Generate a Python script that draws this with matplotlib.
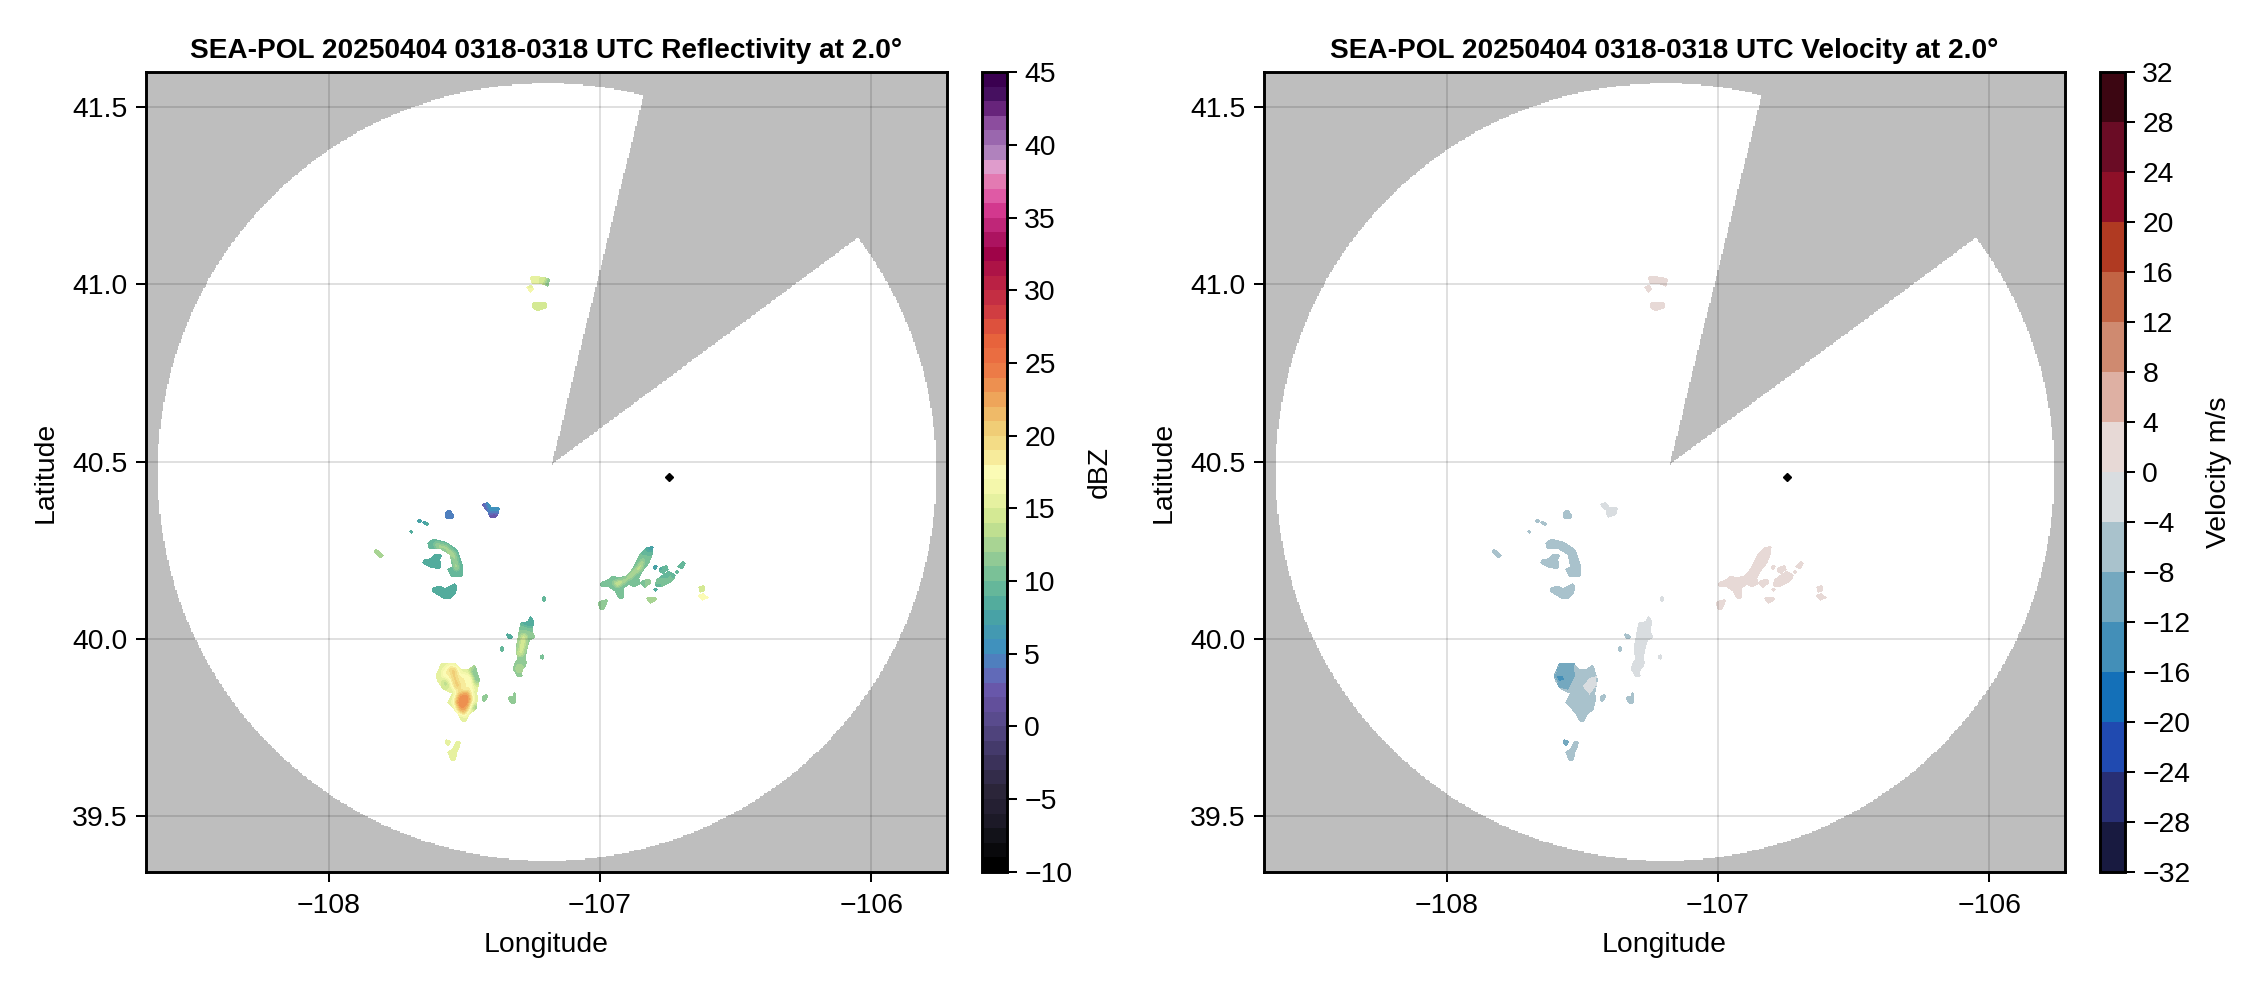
import numpy as np
import matplotlib
matplotlib.use("Agg")
import matplotlib.pyplot as plt
from matplotlib.colors import LinearSegmentedColormap, ListedColormap, Normalize
from matplotlib.path import Path

plt.rcParams['font.family'] = ['Liberation Sans', 'DejaVu Sans']

W, H = 2262, 990
titles = ["SEA-POL 20250404 0318-0318 UTC Reflectivity at 2.0\u00b0",
          "SEA-POL 20250404 0318-0318 UTC Velocity at 2.0\u00b0"]
x_ticks = [-108, -107, -106]
y_ticks = [39.5, 40.0, 40.5, 41.0, 41.5]
dbz_ticks = [-10, -5, 0, 5, 10, 15, 20, 25, 30, 35, 40, 45]
vel_ticks = [-32, -28, -24, -20, -16, -12, -8, -4, 0, 4, 8, 12, 16, 20, 24, 28, 32]
dbz_label, vel_label = "dBZ", "Velocity m/s"

# radar coverage
range_lon, range_lat = -107.195, 40.4705
range_rx, range_ry = 1.435, 1.0955
apex_lon, apex_lat = -107.178, 40.492
tip1_lon, tip1_lat = -106.84, 41.53
tip2_lon, tip2_lat = -106.06, 41.125
site_lon, site_lat = [-106.745], [40.456]

# colour tables
dbz_stops = [-10, -8, -6.5, -5, -2.5, 0, 2, 3.5, 5, 7, 8.5, 10, 12, 14, 16, 17.5, 19, 21, 23, 25, 27, 29,
             31, 33, 34, 36, 37, 38, 39, 40, 41, 42, 43, 44, 45]
dbz_colors = ["#000000", "#121218", "#201c2e", "#2a2438", "#3e3560", "#574a8a", "#6a53a7", "#5f6fbb", "#3f8fc0",
              "#459fa9", "#55ae9c", "#72be98", "#9fd094", "#cce58f", "#f0f5a6", "#fbfbb5", "#f5e48f", "#efc66f",
              "#ee9c55", "#ec7444", "#e65f3a", "#cc3742", "#b71e44", "#9c0048", "#b01866", "#d63b92", "#e15fa8",
              "#e37eb4", "#dfa0cf", "#ab7fbb", "#9965ad", "#8b4c9d", "#66227a", "#45105f", "#3a0050"]
vel_colors = ["#181a40", "#282f74", "#204ab0", "#1470b8", "#438fb8", "#74a8bf", "#a9c2cc", "#d9dde0",
              "#e7d9d6", "#deb0a3", "#cf8a70", "#c26444", "#b03a22", "#8e1028", "#6a0c25", "#3c0612"]

# echoes: outlines in lon / lat
arc_lon = [-107.633,-107.614,-107.565,-107.528,-107.510,-107.506,-107.547,-107.559,-107.541,-107.550,-107.590,-107.629]
arc_lat = [40.270,40.279,40.270,40.251,40.213,40.178,40.176,40.196,40.202,40.237,40.256,40.256]
arcin_lon = [-107.614,-107.565,-107.531,-107.518,-107.534,-107.541,-107.568,-107.608]
arcin_lat = [40.272,40.263,40.240,40.195,40.190,40.227,40.251,40.260]
arm_lon = [-107.584,-107.592,-107.587,-107.620,-107.651,-107.649,-107.629,-107.608]
arm_lat = [40.237,40.223,40.199,40.202,40.213,40.223,40.223,40.237]
low_lon = [-107.614,-107.590,-107.571,-107.534,-107.528,-107.534,-107.553,-107.577,-107.602,-107.617]
low_lat = [40.143,40.148,40.140,40.155,40.146,40.129,40.115,40.117,40.127,40.136]
blue_lon = [-107.568,-107.555,-107.541,-107.543,-107.565]
blue_lat = [40.354,40.362,40.350,40.340,40.339]
nb_lon = [-107.432,-107.412,-107.399,-107.371,-107.375,-107.405,-107.408]
nb_lat = [40.381,40.384,40.371,40.371,40.350,40.343,40.359]
nb2_lon = [-107.405,-107.378,-107.381,-107.405]
nb2_lat = [40.354,40.354,40.343,40.343]
nb3_lon = [-107.432,-107.423,-107.405,-107.412]
nb3_lat = [40.381,40.381,40.362,40.359]
nb4_lon = [-107.418,-107.403,-107.396,-107.408]
nb4_lat = [40.380,40.375,40.362,40.365]
s1_lon = [-107.670,-107.660,-107.661,-107.670]
s1_lat = [40.334,40.334,40.328,40.329]
s2_lon = [-107.651,-107.633,-107.635,-107.651]
s2_lat = [40.330,40.324,40.320,40.325]
s3_lon = [-107.700,-107.692,-107.693,-107.700]
s3_lat = [40.304,40.302,40.297,40.300]
s4_lon = [-107.829,-107.821,-107.801,-107.805,-107.817,-107.829]
s4_lat = [40.249,40.249,40.234,40.229,40.232,40.243]
strip_lon = [-107.256,-107.246,-107.248,-107.240,-107.260,-107.270,-107.276,-107.270,-107.275,-107.289,-107.287,
             -107.301,-107.317,-107.310,-107.301,-107.305,-107.295,-107.289,-107.260]
strip_lat = [40.065,40.054,40.021,40.005,39.999,39.969,39.945,39.936,39.922,39.908,39.894,39.894,39.913,39.933,
             39.945,39.978,40.021,40.044,40.049]
stop_lon = [-107.256,-107.246,-107.248,-107.258,-107.280,-107.289,-107.260]
stop_lat = [40.065,40.054,40.030,40.035,40.037,40.044,40.049]
smid_lon = [-107.289,-107.268,-107.270,-107.285,-107.301,-107.297]
smid_lat = [40.016,40.016,39.988,39.950,39.955,39.988]
sbot_lon = [-107.307,-107.280,-107.285,-107.297,-107.313]
sbot_lat = [39.927,39.933,39.908,39.899,39.913]
t1_lon = [-107.342,-107.326,-107.322,-107.338]
t1_lat = [40.014,40.011,40.005,40.005]
t2_lon = [-107.364,-107.356,-107.357,-107.364]
t2_lat = [39.978,39.978,39.968,39.968]
t3_lon = [-107.211,-107.204,-107.205,-107.211]
t3_lat = [40.119,40.119,40.108,40.108]
t4_lon = [-107.216,-107.210,-107.211,-107.216]
t4_lat = [39.957,39.957,39.945,39.945]
band_lon = [-107.000,-106.994,-106.969,-106.957,-106.932,-106.902,-106.877,-106.853,-106.828,-106.806,-106.810,
            -106.822,-106.846,-106.859,-106.853,-106.877,-106.896,-106.914,-106.916,-106.929,-106.945,-106.969]
band_lat = [40.149,40.159,40.166,40.176,40.171,40.176,40.199,40.237,40.256,40.258,40.237,40.213,40.190,40.171,
            40.155,40.148,40.155,40.143,40.115,40.115,40.136,40.148]
bin_lon = [-106.957,-106.908,-106.871,-106.846,-106.834,-106.846,-106.877,-106.914,-106.939]
bin_lat = [40.162,40.168,40.195,40.223,40.227,40.199,40.176,40.157,40.143]
btip_lon = [-106.828,-106.806,-106.810,-106.834]
btip_lat = [40.256,40.258,40.246,40.243]
b1_lon = [-106.846,-106.818,-106.816,-106.834,-106.846]
b1_lat = [40.162,40.168,40.157,40.146,40.152]
b2_lon = [-106.779,-106.754,-106.751,-106.769,-106.779]
b2_lat = [40.199,40.206,40.195,40.185,40.190]
b3_lon = [-106.791,-106.748,-106.724,-106.730,-106.773,-106.794]
b3_lat = [40.166,40.190,40.180,40.166,40.148,40.149]
b4_lon = [-106.711,-106.693,-106.687,-106.695,-106.711]
b4_lat = [40.206,40.218,40.213,40.199,40.202]
b5_lon = [-106.801,-106.791,-106.794,-106.801]
b5_lat = [40.204,40.204,40.198,40.198]
b6_lon = [-106.830,-106.816,-106.794,-106.797,-106.816]
b6_lat = [40.117,40.115,40.115,40.108,40.102]
b7_lon = [-107.000,-106.975,-106.978,-106.988,-107.000,-107.006]
b7_lat = [40.105,40.110,40.099,40.086,40.086,40.101]
b8_lon = [-106.638,-106.619,-106.603,-106.622]
b8_lat = [40.121,40.127,40.117,40.110]
b9_lon = [-106.634,-106.617,-106.617,-106.629]
b9_lat = [40.146,40.149,40.136,40.133]
b10_lon = [-106.720,-106.711,-106.717]
b10_lat = [40.190,40.190,40.183]
b11_lon = [-106.801,-106.791,-106.797]
b11_lat = [40.140,40.140,40.134]
main_lon = [-107.602,-107.584,-107.534,-107.510,-107.485,-107.461,-107.445,-107.455,-107.452,-107.461,-107.485,
            -107.494,-107.510,-107.522,-107.559,-107.541,-107.577,-107.596]
main_lat = [39.896,39.927,39.930,39.911,39.911,39.924,39.884,39.847,39.828,39.800,39.786,39.767,39.770,39.790,
            39.819,39.847,39.858,39.880]
mpale_lon = [-107.584,-107.571,-107.534,-107.510,-107.473,-107.467,-107.473,-107.494,-107.514,-107.543,-107.528,-107.565]
mpale_lat = [39.898,39.920,39.922,39.901,39.898,39.866,39.819,39.779,39.790,39.820,39.852,39.875]
mne_lon = [-107.482,-107.461,-107.445,-107.457,-107.469]
mne_lat = [39.908,39.924,39.884,39.864,39.893]
mw_lon = [-107.584,-107.559,-107.550,-107.575]
mw_lat = [39.884,39.886,39.861,39.861]
mup_lon = [-107.559,-107.528,-107.526,-107.506,-107.534,-107.547]
mup_lat = [39.922,39.920,39.894,39.858,39.856,39.894]
mcore_lon = [-107.526,-107.485,-107.467,-107.479,-107.501,-107.522,-107.534]
mcore_lat = [39.847,39.854,39.833,39.807,39.785,39.795,39.820]
mhot_lon = [-107.514,-107.485,-107.479,-107.501,-107.522,-107.528]
mhot_lat = [39.842,39.847,39.823,39.800,39.807,39.823]
g1_lon = [-107.430,-107.415,-107.418,-107.428]
g1_lat = [39.837,39.842,39.828,39.823]
g2_lon = [-107.334,-107.317,-107.317,-107.310,-107.312,-107.326,-107.334]
g2_lat = [39.836,39.837,39.847,39.847,39.820,39.820,39.828]
g3_lon = [-107.467,-107.457,-107.457,-107.469]
g3_lat = [39.814,39.814,39.802,39.802]
h1_lon = [-107.568,-107.553,-107.555,-107.568]
h1_lat = [39.715,39.711,39.701,39.704]
h2_lon = [-107.528,-107.516,-107.518,-107.528,-107.534,-107.547,-107.559,-107.541]
h2_lat = [39.711,39.711,39.696,39.682,39.659,39.659,39.682,39.689]
p1_lon = [-107.252,-107.221,-107.190,-107.193,-107.215,-107.249]
p1_lat = [41.019,41.019,41.014,40.995,41.002,41.004]
p1e_lon = [-107.205,-107.190,-107.193,-107.207]
p1e_lat = [41.012,41.014,40.995,41.002]
p2_lon = [-107.268,-107.252,-107.242,-107.255]
p2_lat = [40.991,40.995,40.986,40.979]
p3_lon = [-107.246,-107.221,-107.200,-107.200,-107.227,-107.243]
p3_lat = [40.946,40.946,40.948,40.935,40.927,40.932]
# velocity-only regions of the big southern cell
vb_lon = [-107.582,-107.531,-107.527,-107.552,-107.582,-107.601]
vb_lat = [39.930,39.930,39.894,39.856,39.861,39.894]
vd_lon = [-107.595,-107.570,-107.568,-107.585]
vd_lat = [39.894,39.894,39.884,39.880]
vg_lon = [-107.499,-107.472,-107.447,-107.447,-107.472]
vg_lat = [39.866,39.889,39.894,39.870,39.842]

# (lon, lat, dBZ or None, radial velocity or None), later layers over earlier
layers = [
    (arc_lon, arc_lat, 9, -6), (arcin_lon, arcin_lat, 13.5, None), (arm_lon, arm_lat, 8, -6),
    (low_lon, low_lat, 8.5, -6), (blue_lon, blue_lat, 5, -6), (nb_lon, nb_lat, 5.5, -2),
    (nb2_lon, nb2_lat, 2, None), (nb3_lon, nb3_lat, 2.5, None), (nb4_lon, nb4_lat, 7, None),
    (s1_lon, s1_lat, 7, -6), (s2_lon, s2_lat, 8, -6), (s3_lon, s3_lat, 8, -6), (s4_lon, s4_lat, 12, -6),
    (strip_lon, strip_lat, 11, -2), (stop_lon, stop_lat, 8, None), (smid_lon, smid_lat, 15, None),
    (sbot_lon, sbot_lat, 13, None), (t1_lon, t1_lat, 8.5, -6), (t2_lon, t2_lat, 9, -6),
    (t3_lon, t3_lat, 9, -2), (t4_lon, t4_lat, 10, -2),
    (band_lon, band_lat, 10, 2), (bin_lon, bin_lat, 14.5, None), (btip_lon, btip_lat, 7.5, None),
    (b1_lon, b1_lat, 11, 2), (b2_lon, b2_lat, 9, 2), (b3_lon, b3_lat, 10, 2), (b4_lon, b4_lat, 9, 2),
    (b5_lon, b5_lat, 7, 2), (b6_lon, b6_lat, 12, 2), (b7_lon, b7_lat, 11, 2), (b8_lon, b8_lat, 17.5, 2),
    (b9_lon, b9_lat, 14, 2), (b10_lon, b10_lat, 9, 2), (b11_lon, b11_lat, 8, 2),
    (main_lon, main_lat, 15.5, -6), (mpale_lon, mpale_lat, 18, None), (mne_lon, mne_lat, 11, None),
    (mw_lon, mw_lat, 13.5, None), (mup_lon, mup_lat, 20.5, None), (mcore_lon, mcore_lat, 22, None),
    (mhot_lon, mhot_lat, 23.8, None), (g1_lon, g1_lat, 11, -6), (g2_lon, g2_lat, 11, -6), (g3_lon, g3_lat, 11, None),
    (h1_lon, h1_lat, 15, -10), (h2_lon, h2_lat, 15, -6),
    (p1_lon, p1_lat, 15, 2), (p1e_lon, p1e_lat, 11, None), (p2_lon, p2_lat, 16, 2), (p3_lon, p3_lat, 14, 2),
    (vb_lon, vb_lat, None, -10), (vd_lon, vd_lat, None, -14), (vg_lon, vg_lat, None, -2),
]

# layout in pixels
ax_l, ax_r, ax_t, ax_b = 146.0, 946.5, 72.3, 871.7
cb_l, cb_r = 982.0, 1007.0
panel_dx = 1118.0
xlim = (-108.673, -105.723)
ylim = (39.344, 41.597)
FS = 20.4
SPINE = 2.1


def rect(l, r):
    return [l / W, (H - ax_b) / H, (r - l) / W, (ax_b - ax_t) / H]


def coverage():
    lon_e = np.arange(xlim[0], xlim[1] + 0.005, 0.0049)
    lat_e = np.arange(ylim[0], ylim[1] + 0.0038, 0.0038)
    lo, la = np.meshgrid((lon_e[:-1] + lon_e[1:]) / 2, (lat_e[:-1] + lat_e[1:]) / 2)
    inside = ((lo - range_lon) / range_rx) ** 2 + ((la - range_lat) / range_ry) ** 2 <= 1
    c1 = (tip1_lon - apex_lon) * (la - apex_lat) - (tip1_lat - apex_lat) * (lo - apex_lon)
    c2 = (tip2_lon - apex_lon) * (la - apex_lat) - (tip2_lat - apex_lat) * (lo - apex_lon)
    blocked = (c1 <= 0) & (c2 >= 0)
    return lon_e, lat_e, np.ma.masked_where(~(inside & ~blocked), np.ones(lo.shape))


def rasterize(idx):
    lon_e = np.arange(-107.9, -106.55, 0.0037)
    lat_e = np.arange(39.62, 41.05, 0.0028)
    lo, la = np.meshgrid((lon_e[:-1] + lon_e[1:]) / 2, (lat_e[:-1] + lat_e[1:]) / 2)
    pts = np.column_stack([lo.ravel(), la.ravel()])
    field = np.full(lo.size, np.nan)
    for layer in layers:
        if layer[idx] is None:
            continue
        hit = Path(np.column_stack(layer[:2])).contains_points(pts)
        field[hit] = layer[idx]
    field = field.reshape(lo.shape)
    # the polygons are a little tighter than the echoes: grow the edge
    grown = field.copy()
    for dy, dx in ((0, 1), (0, -1), (1, 0), (-1, 0)):
        nb = np.roll(np.roll(field, dy, 0), dx, 1)
        fill = np.isnan(grown) & np.isfinite(nb)
        grown[fill] = nb[fill]
    return lon_e, lat_e, grown


def soften(field, passes=2, rad=2):
    mask = np.isfinite(field)
    val = np.where(mask, field, 0.0)
    for _ in range(passes):
        s = np.zeros_like(val)
        w = np.zeros_like(val)
        for dy in range(-rad, rad + 1):
            for dx in range(-rad, rad + 1):
                s += np.roll(np.roll(val, dy, 0), dx, 1)
                w += np.roll(np.roll(mask.astype(float), dy, 0), dx, 1)
        val = np.where(mask, s / np.maximum(w, 1), 0.0)
    return np.ma.masked_where(~mask, val)


dbz_pos = (np.array(dbz_stops) + 10) / 55
dbz_cmap = LinearSegmentedColormap.from_list("dbz", list(zip(dbz_pos, dbz_colors)), N=55)
vel_cmap = ListedColormap(vel_colors)
dbz_norm = Normalize(-10, 45)
vel_norm = Normalize(-32, 32)

fig = plt.figure(figsize=(W / 100, H / 100), dpi=100, facecolor="white")
cov_x, cov_y, cov = coverage()
white = ListedColormap(["white"])

panels = [
    (0.0, 1, dbz_cmap, dbz_norm, dbz_ticks, dbz_label, titles[0], True, 1100.0),
    (panel_dx, 2, vel_cmap, vel_norm, vel_ticks, vel_label, titles[1], False, 2219.0),
]
for dx, idx, cmap, norm, cticks, clabel, title, smooth, clabel_x in panels:
    ax = fig.add_axes(rect(ax_l + dx, ax_r + dx))
    ax.set_facecolor("#bebebe")
    ax.pcolormesh(cov_x, cov_y, cov, cmap=white, vmin=0, vmax=1, zorder=1)
    ex, ey, f = rasterize(idx + 1)
    f = soften(f) if smooth else np.ma.masked_invalid(f)
    mesh = ax.pcolormesh(ex, ey, f, cmap=cmap, norm=norm, zorder=1.5)
    ax.plot(site_lon, site_lat, ls="none", marker="D", color="black", ms=4.2, zorder=4)
    ax.set_xlim(xlim)
    ax.set_ylim(ylim)
    ax.set_xticks(x_ticks)
    ax.set_yticks(y_ticks)
    ax.set_axisbelow(False)
    ax.grid(True, color="black", alpha=0.12, lw=1.45)
    ax.tick_params(labelsize=FS, length=7.5, width=1.45, pad=6)
    ax.tick_params(axis="x", pad=8)
    for sp in ax.spines.values():
        sp.set_linewidth(SPINE)
    ax.set_title(title, fontsize=20.15, fontweight="bold", pad=10)
    ax.set_xlabel("Longitude", fontsize=FS)
    ax.set_ylabel("Latitude", fontsize=FS)
    ax.xaxis.set_label_coords(0.5, (ax_b - 945) / (ax_b - ax_t))
    ax.xaxis.label.set_verticalalignment("center")
    ax.yaxis.set_label_coords((46 - ax_l) / (ax_r - ax_l), 0.5)
    ax.yaxis.label.set_verticalalignment("center")

    cax = fig.add_axes(rect(cb_l + dx, cb_r + dx))
    cb = fig.colorbar(mesh, cax=cax, ticks=cticks)
    cb.outline.set_linewidth(SPINE)
    cb.ax.tick_params(labelsize=FS, length=7.5, width=1.45, pad=5)
    cb.set_label(clabel, fontsize=FS)
    cax.yaxis.set_label_coords((clabel_x - cb_l - dx) / (cb_r - cb_l), 0.5)
    cax.yaxis.label.set_verticalalignment("center")

fig.savefig("out.png", dpi=100)
